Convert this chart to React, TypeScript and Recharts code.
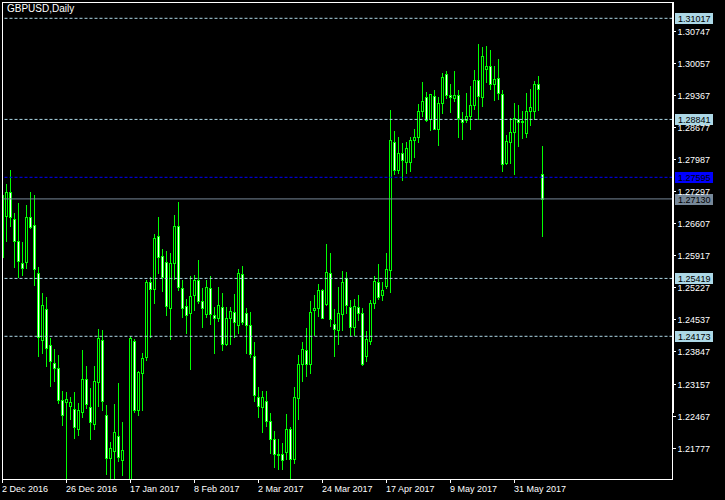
import React from 'react';
import { ComposedChart, Bar, XAxis, YAxis, ReferenceLine } from 'recharts';

// Daily GBPUSD candles, 2 Dec 2016 .. 9 Jun 2017
const open = [
  1.27214, 1.26769, 1.27271, 1.26690, 1.26224, 1.25743, 1.25779, 1.26748, 1.26561, 1.25543,
  1.24093, 1.24753, 1.23979, 1.23591, 1.23484, 1.22802, 1.22766, 1.22680, 1.22601, 1.22185,
  1.22551, 1.23247, 1.22659, 1.22293, 1.23182, 1.24086, 1.22472, 1.21561, 1.21712, 1.22020,
  1.21518, 1.20650, 1.20600, 1.24079, 1.22587, 1.23376, 1.23720, 1.25335, 1.25184, 1.26325,
  1.25901, 1.25765, 1.24775, 1.25758, 1.26547, 1.25205, 1.24832, 1.24667, 1.25055, 1.25378,
  1.24926, 1.24646, 1.25205, 1.24639, 1.24560, 1.24797, 1.24000, 1.24560, 1.24689, 1.24409,
  1.25507, 1.24667, 1.24409, 1.23749, 1.22860, 1.22651, 1.22773, 1.22343, 1.21956, 1.21640,
  1.21640, 1.21683, 1.22178, 1.21540, 1.22852, 1.23570, 1.23871, 1.23570, 1.24732, 1.24775,
  1.25170, 1.24875, 1.25528, 1.24431, 1.24301, 1.24660, 1.25428, 1.24797, 1.24366, 1.24797,
  1.24667, 1.23756, 1.24079, 1.24883, 1.25335, 1.25069, 1.25263, 1.25607, 1.28362, 1.27759,
  1.28111, 1.27932, 1.27932, 1.28391, 1.28455, 1.29015, 1.29316, 1.28843, 1.29338, 1.28642,
  1.29187, 1.29811, 1.29359, 1.29295, 1.29359, 1.28843, 1.28821, 1.28907, 1.29144, 1.29682,
  1.29316, 1.29919, 1.29983, 1.29596, 1.29725, 1.29381, 1.27910, 1.28362, 1.28563, 1.28857,
  1.28778, 1.28541, 1.29015, 1.29029, 1.29596, 1.27659,
];
const high = [
  1.27250, 1.27451, 1.27752, 1.26820, 1.27035, 1.26195, 1.26999, 1.27271, 1.27214, 1.25657,
  1.25098, 1.25012, 1.24129, 1.23893, 1.23771, 1.22996, 1.22974, 1.22859, 1.22967, 1.22745,
  1.23878, 1.23534, 1.23060, 1.23534, 1.24330, 1.24309, 1.22687, 1.21898, 1.22716, 1.23168,
  1.22329, 1.20900, 1.24180, 1.24115, 1.23433, 1.23806, 1.25385, 1.25442, 1.26375, 1.26733,
  1.26045, 1.26002, 1.25959, 1.26784, 1.27063, 1.25385, 1.24976, 1.25471, 1.25485, 1.25815,
  1.25213, 1.25385, 1.25471, 1.24811, 1.25227, 1.25105, 1.24811, 1.24797, 1.25083, 1.25621,
  1.25686, 1.24789, 1.24696, 1.24050, 1.23089, 1.22996, 1.22996, 1.22515, 1.22135, 1.21963,
  1.21877, 1.22501, 1.22221, 1.23082, 1.23771, 1.24043, 1.24352, 1.24926, 1.25055, 1.25299,
  1.25198, 1.26160, 1.25959, 1.24753, 1.25234, 1.25578, 1.25557, 1.24947, 1.24969, 1.25055,
  1.24775, 1.24280, 1.24947, 1.25464, 1.25729, 1.25342, 1.25959, 1.29044, 1.28599, 1.28462,
  1.28333, 1.28362, 1.28455, 1.28627, 1.29173, 1.29646, 1.29431, 1.29388, 1.29467, 1.29323,
  1.29840, 1.29883, 1.29603, 1.29883, 1.29474, 1.28993, 1.29409, 1.29560, 1.29904, 1.30464,
  1.30399, 1.30421, 1.30335, 1.29990, 1.30141, 1.29474, 1.28505, 1.28864, 1.29194, 1.29158,
  1.29022, 1.29409, 1.29495, 1.29668, 1.29775, 1.28269,
];
const low = [
  1.25600, 1.26224, 1.26547, 1.25672, 1.25456, 1.25492, 1.25650, 1.26511, 1.25277, 1.23749,
  1.23821, 1.23534, 1.23103, 1.23218, 1.22730, 1.22264, 1.20950, 1.22386, 1.21991, 1.22049,
  1.22443, 1.22623, 1.21970, 1.22185, 1.22680, 1.22587, 1.21209, 1.20950, 1.20980, 1.21496,
  1.21195, 1.19860, 1.20400, 1.22537, 1.22479, 1.22587, 1.23663, 1.24165, 1.24897, 1.25543,
  1.25155, 1.24632, 1.24108, 1.25413, 1.25170, 1.24581, 1.24251, 1.23462, 1.24739, 1.24897,
  1.24380, 1.24581, 1.24431, 1.23821, 1.24510, 1.23871, 1.23986, 1.24000, 1.24165, 1.24237,
  1.24438, 1.23821, 1.23735, 1.22788, 1.22429, 1.22121, 1.22250, 1.21669, 1.21367, 1.21317,
  1.21317, 1.21525, 1.20980, 1.21439, 1.22393, 1.23218, 1.23326, 1.23390, 1.24201, 1.24610,
  1.24567, 1.24847, 1.24402, 1.23756, 1.24015, 1.24316, 1.24667, 1.24201, 1.24208, 1.24524,
  1.23555, 1.23649, 1.24007, 1.24782, 1.24983, 1.24954, 1.25205, 1.25127, 1.27659, 1.27695,
  1.27537, 1.27695, 1.27738, 1.28039, 1.28362, 1.28922, 1.28814, 1.28613, 1.28635, 1.28290,
  1.28979, 1.29302, 1.29008, 1.29244, 1.28462, 1.28419, 1.28792, 1.28635, 1.29065, 1.28850,
  1.29137, 1.29639, 1.29503, 1.29252, 1.29287, 1.27738, 1.27874, 1.27910, 1.27673, 1.28269,
  1.28448, 1.28469, 1.28721, 1.28857, 1.29043, 1.26339,
];
const close = [
  1.25887, 1.27271, 1.26748, 1.26231, 1.25801, 1.25650, 1.26733, 1.26533, 1.25629, 1.24165,
  1.24839, 1.23928, 1.23649, 1.23498, 1.22802, 1.22479, 1.22824, 1.22752, 1.22228, 1.22587,
  1.23247, 1.22723, 1.22336, 1.23204, 1.24129, 1.22788, 1.21561, 1.21769, 1.22106, 1.21582,
  1.21719, 1.20600, 1.24129, 1.22587, 1.23405, 1.23699, 1.25335, 1.25184, 1.26282, 1.25873,
  1.25442, 1.24832, 1.25743, 1.26547, 1.25227, 1.24775, 1.24624, 1.25048, 1.25378, 1.24933,
  1.24775, 1.25227, 1.24646, 1.24560, 1.24854, 1.24015, 1.24560, 1.24710, 1.24488, 1.25528,
  1.24481, 1.24409, 1.23799, 1.22917, 1.22680, 1.22860, 1.22343, 1.21970, 1.21647, 1.21611,
  1.21511, 1.22178, 1.21525, 1.22867, 1.23577, 1.23893, 1.23570, 1.24689, 1.24782, 1.25170,
  1.24574, 1.25550, 1.24538, 1.24323, 1.24667, 1.25335, 1.24840, 1.24366, 1.24825, 1.24667,
  1.23584, 1.24108, 1.24890, 1.25356, 1.25012, 1.25162, 1.25614, 1.28391, 1.27759, 1.28111,
  1.27967, 1.28218, 1.28391, 1.28455, 1.29015, 1.29230, 1.28821, 1.29381, 1.28642, 1.29187,
  1.29747, 1.29359, 1.29316, 1.29359, 1.28864, 1.28778, 1.28907, 1.29144, 1.29682, 1.29338,
  1.30199, 1.29983, 1.29596, 1.29704, 1.29402, 1.27874, 1.28369, 1.28563, 1.28864, 1.28778,
  1.28814, 1.29015, 1.29101, 1.29596, 1.29488, 1.27130,
];

const tickDates = [
  '2 Dec 2016', '26 Dec 2016', '17 Jan 2017', '8 Feb 2017', '2 Mar 2017',
  '24 Mar 2017', '17 Apr 2017', '9 May 2017', '31 May 2017',
];
const priceTicks = [
  1.30747, 1.30057, 1.29367, 1.28677, 1.27987, 1.27297, 1.26607,
  1.25917, 1.25227, 1.24537, 1.23847, 1.23157, 1.22467, 1.21777,
];
const levelLines = [1.31017, 1.28841, 1.25419, 1.24173];
const bidLevel = 1.27595;
const lastLevel = 1.2713;
const priceDomain = [1.21102, 1.31368];
const emptySlots = 32;

const MONTHS = ['Jan', 'Feb', 'Mar', 'Apr', 'May', 'Jun', 'Jul', 'Aug', 'Sep', 'Oct', 'Nov', 'Dec'];
function weekdayLabels(start: Date, n: number): string[] {
  const out: string[] = [];
  const d = new Date(start.getTime());
  while (out.length < n) {
    const wd = d.getDay();
    if (wd !== 0 && wd !== 6) out.push(`${d.getDate()} ${MONTHS[d.getMonth()]} ${d.getFullYear()}`);
    d.setDate(d.getDate() + 1);
  }
  return out;
}
const dates = weekdayLabels(new Date(2016, 11, 2), open.length);

const data = [
  ...dates.map((date, i) => ({
    date, o: open[i], h: high[i], l: low[i], c: close[i], range: [low[i], high[i]],
  })),
  ...Array.from({ length: emptySlots }, (_, j) => ({ date: `slot-${j}`, range: null as any })),
];

const GREEN = '#00ff00';
const FONT = '"Liberation Sans", Arial, sans-serif';

const Candle = (props: any) => {
  const { x, y, width, height, payload } = props;
  if (!payload || payload.o == null || !isFinite(y) || !isFinite(height)) return <g />;
  const top = Math.min(y, y + height);
  const hpx = Math.abs(height);
  const { o, h, l, c } = payload;
  const per = h - l > 0 ? hpx / (h - l) : 0;
  const yOf = (v: number) => top + (h - v) * per;
  const wx = Math.floor(x + width / 2);
  const yH = Math.round(yOf(h));
  const yL = Math.round(yOf(l));
  const bTop = Math.round(yOf(Math.max(o, c)));
  const bBot = Math.round(yOf(Math.min(o, c)));
  const bear = c < o;
  return (
    <g shapeRendering="crispEdges">
      <rect x={wx} y={yH} width={1} height={yL - yH + 1} fill={GREEN} />
      <rect x={wx - 1} y={bTop} width={3} height={bBot - bTop + 1} fill={GREEN} />
      {bBot - bTop >= 2 && (
        <rect x={wx} y={bTop + 1} width={1} height={bBot - bTop - 1} fill={bear ? '#ffffff' : '#000000'} />
      )}
    </g>
  );
};

const PriceTick = (props: any) => {
  const { x, y, payload } = props;
  const yy = Math.round(y) + 0.5;
  return (
    <g>
      <line x1={x} x2={x + 3.5} y1={yy} y2={yy} stroke="#ffffff" strokeWidth={1} />
      <text x={x + 5} y={yy + 3.5} fill="#ffffff" fontSize={9} fontFamily={FONT}>
        {Number(payload.value).toFixed(5)}
      </text>
    </g>
  );
};

const DateTick = (props: any) => {
  const { x, y, payload } = props;
  const xx = Math.floor(x) + 0.5;
  return (
    <g>
      <line x1={xx} x2={xx} y1={y} y2={y + 4} stroke="#ffffff" strokeWidth={1} />
      <text x={Math.floor(x)} y={y + 13} fill="#ffffff" fontSize={9} fontFamily={FONT}>
        {payload.value}
      </text>
    </g>
  );
};

const boxLabel = (value: number, bg: string, fg: string) => (p: any) => {
  const vb = p && p.viewBox;
  if (!vb) return null;
  const bx = vb.x + vb.width + 2.5;
  const cy = Math.round(vb.y);
  return (
    <g>
      <rect x={bx} y={cy - 5} width={38} height={11} fill={bg} shapeRendering="crispEdges" />
      <text x={bx + 3} y={cy + 4} fill={fg} fontSize={9} fontFamily={FONT}>
        {value.toFixed(5)}
      </text>
    </g>
  );
};

export default function App() {
  return (
    <div style={{ position: 'absolute', left: 0, top: 0, width: 725, height: 500, background: '#000000', overflow: 'hidden' }}>
      <ComposedChart
        width={725}
        height={500}
        data={data}
        margin={{ top: 2, right: 0, bottom: 0, left: 0.5 }}
        barCategoryGap={0}
      >
        <XAxis
          dataKey="date"
          type="category"
          ticks={tickDates}
          interval={0}
          axisLine={false}
          tickLine={false}
          tickSize={0}
          tickMargin={0}
          height={21}
          tick={<DateTick />}
        />
        <YAxis
          orientation="right"
          type="number"
          domain={priceDomain}
          allowDataOverflow
          ticks={priceTicks}
          interval={0}
          axisLine={false}
          tickLine={false}
          tickSize={0}
          tickMargin={0}
          width={52.5}
          tick={<PriceTick />}
        />
        {levelLines.map((v) => (
          <ReferenceLine key={v} y={v} stroke="#add8e6" strokeDasharray="3 2" label={boxLabel(v, '#add8e6', '#000000')} />
        ))}
        <ReferenceLine y={bidLevel} stroke="#0000ff" strokeDasharray="3 2" label={boxLabel(bidLevel, '#0000ff', '#000000')} />
        <ReferenceLine y={lastLevel} stroke="#778899" label={boxLabel(lastLevel, '#778899', '#000000')} />
        <Bar dataKey="range" shape={<Candle />} isAnimationActive={false} />
      </ComposedChart>
      <div style={{ position: 'absolute', left: 0, top: 0, width: 2, height: 480, background: '#000000' }} />
      <div style={{ position: 'absolute', left: 2, top: 2, width: 671, height: 478, border: '1px solid #ffffff', boxSizing: 'border-box', pointerEvents: 'none' }} />
      <div style={{ position: 'absolute', left: 673, top: 2, width: 1, height: 411, background: '#ffffff' }} />
      <div style={{ position: 'absolute', left: 7, top: 3, color: '#ffffff', fontFamily: FONT, fontSize: 10, lineHeight: '12px', whiteSpace: 'nowrap' }}>
        GBPUSD,Daily
      </div>
    </div>
  );
}
